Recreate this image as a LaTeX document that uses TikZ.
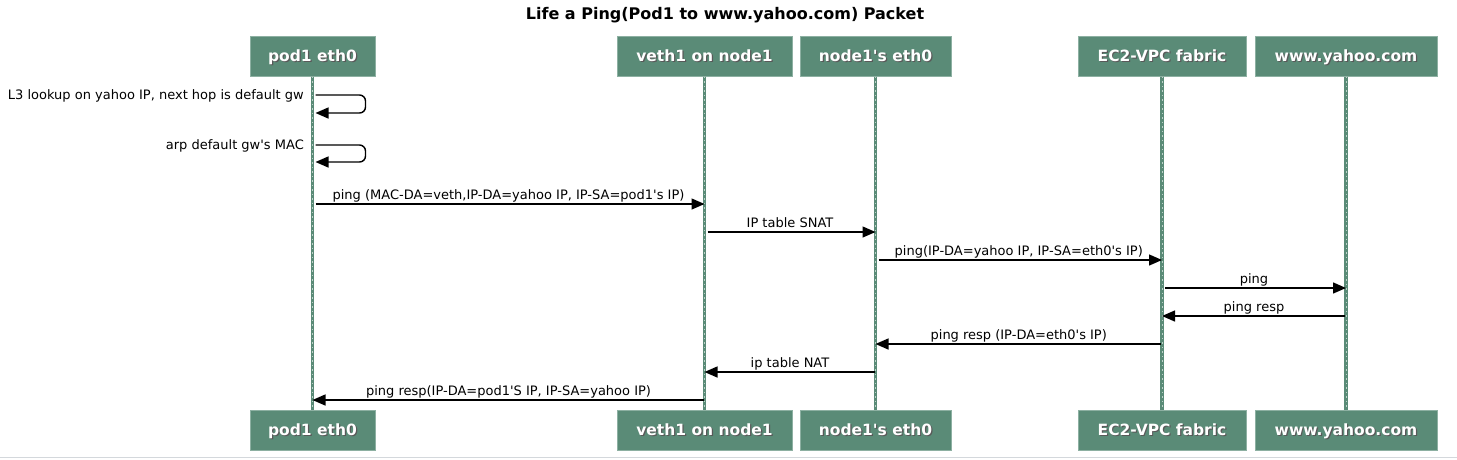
\documentclass[tikz,border=0pt]{standalone}
\usepackage{fontspec}
\setmainfont{DejaVu Sans}
\usetikzlibrary{arrows.meta}
\definecolor{boxgreen}{HTML}{5A8B77}
\definecolor{edgegreen}{HTML}{8DB0A2}
\definecolor{footgray}{HTML}{D4D8DC}
\newcommand\shtext[1]{\makebox[0pt][l]{\smash{\kern1.2pt\raisebox{-1.2pt}{\color{black!65}#1}}}#1}
\newcommand\q{\textquotesingle}
\tikzset{
  actor/.style={fill=boxgreen, draw=edgegreen, line width=1pt, minimum height=40pt,
    text=white, font=\bfseries\fontsize{15.5}{16}\selectfont, inner sep=0pt,
    text height=11pt, text depth=0pt},
  lifeline/.style={line width=3.2pt, boxgreen},
  lifedash/.style={line width=0.6pt, boxgreen!40!white, dash pattern=on 1.5pt off 3pt},
  msg/.style={line width=1.4pt, -{Triangle[length=13pt,width=11pt]}},
  msglabel/.style={font=\fontsize{13}{14}\selectfont, inner sep=0pt, anchor=base},
  onarrow/.style={msglabel, midway, yshift=5pt, anchor=base},
}
\begin{document}
\begin{tikzpicture}[x=1pt, y=-1pt]
		%%%%% FRAME %%%%%
		\useasboundingbox[fill=white] (0, 0) rectangle (1457, 459);
		\draw[footgray, line width=1pt] (0, 457.5) -- (1457, 457.5);
		
		\node[font=\bfseries\fontsize{16}{18}\selectfont] (title) at (725, 15.5) {Life a Ping(Pod1 to www.yahoo.com) Packet};
		
		%%%%% ACTORS %%%%%
		\node[actor, minimum width=125pt] (podtop) at (312.5, 56) {\shtext{pod1 eth0}};
		\node[actor, minimum width=175pt] (vethtop) at (704.5, 56) {\shtext{veth1 on node1}};
		\node[actor, minimum width=151pt] (nodetop) at (875.5, 56) {\shtext{node1\q s eth0}};
		\node[actor, minimum width=168pt] (fabrictop) at (1162, 56) {\shtext{EC2-VPC fabric}};
		\node[actor, minimum width=182pt] (yahootop) at (1346, 56) {\shtext{www.yahoo.com}};
		
		\node[actor, minimum width=125pt] (podbot) at (312.5, 430) {\shtext{pod1 eth0}};
		\node[actor, minimum width=175pt] (vethbot) at (704.5, 430) {\shtext{veth1 on node1}};
		\node[actor, minimum width=151pt] (nodebot) at (875.5, 430) {\shtext{node1\q s eth0}};
		\node[actor, minimum width=168pt] (fabricbot) at (1162, 430) {\shtext{EC2-VPC fabric}};
		\node[actor, minimum width=182pt] (yahoobot) at (1346, 430) {\shtext{www.yahoo.com}};
		
		%%%%% LIFELINES %%%%%
		\foreach \who in {pod, veth, node, fabric, yahoo} {
			\draw[lifeline] (\who top.south) -- (\who bot.north);
			\draw[lifedash] (\who top.south) -- (\who bot.north);
		}
		
		%%%%% SELF MESSAGES %%%%%
		\draw[msg, rounded corners=6pt] (podtop.south |- 0, 95) ++(3, 0) -- ++(50, 0) -- ++(0, 18) -- ++(-50, 0);
		\node[msglabel, anchor=base east] (lookup) at (304, 99) {L3 lookup on yahoo IP, next hop is default gw};
		
		\draw[msg, rounded corners=6pt] (podtop.south |- 0, 145) ++(3, 0) -- ++(50, 0) -- ++(0, 17) -- ++(-50, 0);
		\node[msglabel, anchor=base east] (arp) at (304, 149) {arp default gw\q s MAC};
		
		%%%%% MESSAGES %%%%%
		\draw[msg, shorten <=3pt] (podtop.south |- 0, 204) -- (vethtop.south |- 0, 204)
			node[onarrow] (ping1) {ping (MAC-DA=veth,IP-DA=yahoo IP, IP-SA=pod1\q s IP)};
		\draw[msg, shorten <=3pt] (vethtop.south |- 0, 232) -- (nodetop.south |- 0, 232)
			node[onarrow] (snat) {IP table SNAT};
		\draw[msg, shorten <=3pt] (nodetop.south |- 0, 260) -- (fabrictop.south |- 0, 260)
			node[onarrow] (ping2) {ping(IP-DA=yahoo IP, IP-SA=eth0\q s IP)};
		\draw[msg, shorten <=3pt] (fabrictop.south |- 0, 288) -- (yahootop.south |- 0, 288)
			node[onarrow] (ping3) {ping};
		\draw[msg, shorten <=1pt] (yahootop.south |- 0, 316) -- (fabrictop.south |- 0, 316)
			node[onarrow] (resp1) {ping resp};
		\draw[msg, shorten <=1pt] (fabrictop.south |- 0, 344) -- (nodetop.south |- 0, 344)
			node[onarrow] (resp2) {ping resp (IP-DA=eth0\q s IP)};
		\draw[msg, shorten <=1pt] (nodetop.south |- 0, 372) -- (vethtop.south |- 0, 372)
			node[onarrow] (nat) {ip table NAT};
		\draw[msg, shorten <=1pt] (vethtop.south |- 0, 400) -- (podtop.south |- 0, 400)
			node[onarrow] (resp3) {ping resp(IP-DA=pod1\q S IP, IP-SA=yahoo IP)};
		
		%%%%% END %%%%%
	\end{tikzpicture}
\end{document}
